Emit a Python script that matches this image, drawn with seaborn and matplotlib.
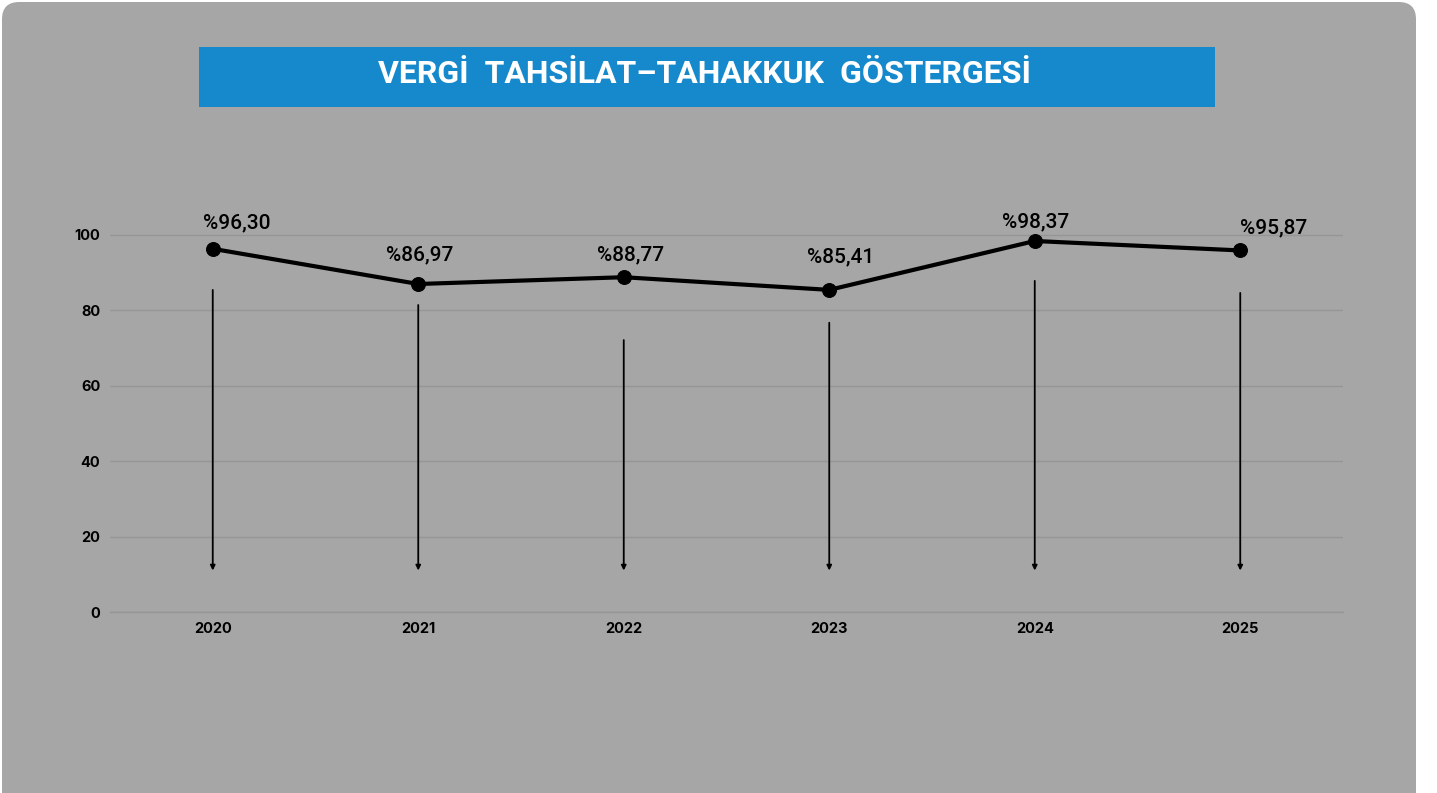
import numpy as np
import pandas as pd
import matplotlib
matplotlib.use("Agg")
import matplotlib.pyplot as plt
from matplotlib.patches import FancyBboxPatch, Rectangle
import seaborn as sns

# data
years = ["2020", "2021", "2022", "2023", "2024", "2025"]
ratio = [96.30, 86.97, 88.77, 85.41, 98.37, 95.87]
labels = ["%96,30", "%86,97", "%88,77", "%85,41", "%98,37", "%95,87"]
arrow_top = [85.4, 81.4, 72.1, 76.7, 87.8, 84.6]
arrow_end = 11
yticks = [0, 20, 40, 60, 80, 100]
title = "VERGİ  TAHSİLAT\u2013TAHAKKUK  GÖSTERGESİ"

BG = "#a6a6a6"
BLUE = "#1589cc"
GRID = "#969696"

df = pd.DataFrame({"year": years, "ratio": ratio})

sns.set_theme(style="white")
plt.rcParams["font.family"] = ["Inter", "DejaVu Sans"]

W, H = 1437, 793
fig = plt.figure(figsize=(W / 100, H / 100), dpi=100)
fig.patch.set_facecolor("white")

# grey panel with rounded corners
panel = FancyBboxPatch((2 / W, -0.02), 1414 / W, 0.02 + 791 / H,
                       boxstyle="round,pad=0,rounding_size=0.012",
                       transform=fig.transFigure, facecolor=BG,
                       edgecolor="none", zorder=-2, mutation_aspect=W / H)
fig.patches.append(panel)

# title box
fig.patches.append(Rectangle((199 / W, 1 - 107 / H), (1215 - 199) / W, 60 / H,
                             transform=fig.transFigure, facecolor=BLUE,
                             edgecolor="none", zorder=-1))
fig.text(705 / W, 1 - 74 / H, title, ha="center", va="center",
         color="white", fontsize=23, fontweight="bold",
         family=["Roboto", "DejaVu Sans"])

ax = fig.add_axes([110 / W, 1 - 612 / H, (1343 - 110) / W, (612 - 216) / H])
ax.set_facecolor(BG)
ax.set_zorder(2)

sns.lineplot(data=df, x="year", y="ratio", ax=ax, color="black",
             linewidth=3, marker="o", markersize=10, sort=False,
             markeredgecolor="black", zorder=4)

ax.set_xlim(-0.5, 5.5)
ax.set_ylim(0, 105)
ax.set_yticks(yticks)
ax.yaxis.grid(True, color=GRID, linewidth=1)
ax.xaxis.grid(False)
for s in ax.spines.values():
    s.set_visible(False)
ax.spines["bottom"].set_visible(True)
ax.spines["bottom"].set_color(GRID)
ax.spines["bottom"].set_linewidth(1)
ax.set_xlabel("")
ax.set_ylabel("")
ax.tick_params(axis="both", length=0, labelsize=10.5, labelcolor="black")
ax.tick_params(axis="y", pad=7)
ax.tick_params(axis="x", pad=7)
for t in ax.get_xticklabels() + ax.get_yticklabels():
    t.set_fontweight("bold")

# arrows under each point
for i, top in enumerate(arrow_top):
    ax.annotate("", xy=(i, arrow_end), xytext=(i, top),
                arrowprops=dict(arrowstyle="-|>", color="black", lw=1.3,
                                mutation_scale=7, shrinkA=0, shrinkB=0))

# value labels
label_dx = [24, 1, 7, 11, 1, 33]
label_dy = [26, 29, 22, 33, 19, 23]
for i, (v, lab) in enumerate(zip(ratio, labels)):
    ax.annotate(lab, xy=(i, v), xytext=(label_dx[i] * 0.72, label_dy[i] * 0.72),
                textcoords="offset points", ha="center", va="center",
                fontsize=15, color="black", fontweight="medium",
                family=["Roboto", "DejaVu Sans"])

fig.savefig("out.png", dpi=100, facecolor=fig.get_facecolor())
